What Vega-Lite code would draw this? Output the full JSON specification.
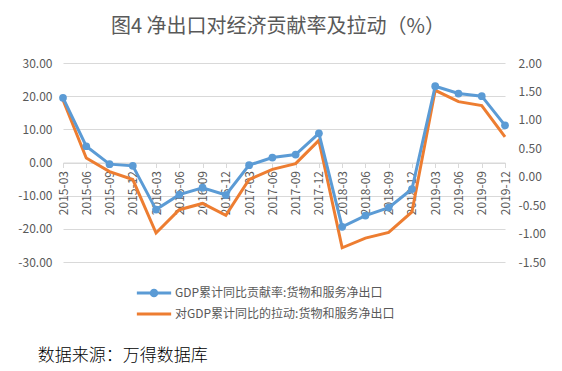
{
  "$schema": "https://vega.github.io/schema/vega-lite/v6.json",
  "padding": {"left": 17, "top": 17, "right": 10, "bottom": 5},
  "background": "white",
  "config": {"font": "Noto Sans CJK SC", "view": {"stroke": null}},
  "title": {"text": "数据来源：万得数据库", "orient": "bottom", "anchor": "start", "fontSize": 17, "fontWeight": 300, "color": "#000000", "offset": 28, "dx": 20},
  "vconcat": [
    {
      "width": 442,
      "height": 199,
      "title": {"text": "图4 净出口对经济贡献率及拉动（%）", "fontSize": 20, "fontWeight": "normal", "color": "#595959", "offset": 20, "anchor": "middle", "dx": -6},
      "data": {"values": [
        {"q": "2015-03", "contrib": 19.5, "pull": 1.35},
        {"q": "2015-06", "contrib": 4.9, "pull": 0.33},
        {"q": "2015-09", "contrib": -0.5, "pull": 0.09},
        {"q": "2015-12", "contrib": -1.0, "pull": -0.05},
        {"q": "2016-03", "contrib": -14.2, "pull": -0.99},
        {"q": "2016-06", "contrib": -9.7, "pull": -0.58},
        {"q": "2016-09", "contrib": -7.6, "pull": -0.47},
        {"q": "2016-12", "contrib": -9.8, "pull": -0.68},
        {"q": "2017-03", "contrib": -0.8, "pull": -0.05},
        {"q": "2017-06", "contrib": 1.5, "pull": 0.13},
        {"q": "2017-09", "contrib": 2.4, "pull": 0.23},
        {"q": "2017-12", "contrib": 8.8, "pull": 0.64},
        {"q": "2018-03", "contrib": -19.4, "pull": -1.25},
        {"q": "2018-06", "contrib": -16.0, "pull": -1.08},
        {"q": "2018-09", "contrib": -13.6, "pull": -0.98},
        {"q": "2018-12", "contrib": -8.0, "pull": -0.62},
        {"q": "2019-03", "contrib": 23.0, "pull": 1.52},
        {"q": "2019-06", "contrib": 20.8, "pull": 1.32},
        {"q": "2019-09", "contrib": 20.0, "pull": 1.25},
        {"q": "2019-12", "contrib": 11.2, "pull": 0.70}
      ]},
      "encoding": {
        "x": {
          "field": "q", "type": "ordinal", "sort": null,
          "scale": {"type": "point", "padding": 0},
          "axis": {"title": null, "orient": "bottom", "offset": -99.5, "labelAngle": 270, "labelFontSize": 12, "labelColor": "#595959", "domainColor": "#d9d9d9", "tickColor": "#d9d9d9", "tickSize": 5, "grid": false, "labelPadding": 3}
        }
      },
      "layer": [
        {
          "mark": {"type": "line", "strokeWidth": 3},
          "encoding": {
            "y": {"field": "pull", "type": "quantitative",
              "scale": {"domain": [-1.5, 2], "nice": false, "zero": false},
              "axis": {"orient": "right", "title": null, "values": [-1.5, -1, -0.5, 0, 0.5, 1, 1.5, 2], "labelExpr": "(datum.value < 0 ? '-' : '') + format(abs(datum.value), '.2f')", "grid": false, "domain": false, "ticks": false, "tickSize": 0, "labelPadding": 13, "labelFontSize": 12, "labelColor": "#595959"}},
            "color": {"datum": "对GDP累计同比的拉动:货物和服务净出口"}
          }
        },
        {
          "mark": {"type": "line", "strokeWidth": 3, "point": {"filled": true, "size": 60}},
          "encoding": {
            "y": {"field": "contrib", "type": "quantitative",
              "scale": {"domain": [-30, 30], "nice": false},
              "axis": {"orient": "left", "title": null, "values": [-30, -20, -10, 0, 10, 20, 30], "labelExpr": "(datum.value < 0 ? '-' : '') + format(abs(datum.value), '.2f')", "grid": true, "gridColor": "#d9d9d9", "domain": false, "ticks": false, "tickSize": 0, "labelPadding": 11, "labelFontSize": 12, "labelColor": "#595959"}},
            "color": {
              "datum": "GDP累计同比贡献率:货物和服务净出口",
              "scale": {"domain": ["GDP累计同比贡献率:货物和服务净出口", "对GDP累计同比的拉动:货物和服务净出口"], "range": ["#5B9BD5", "#ED7D31"]},
              "legend": {
                "orient": "none", "legendX": 83, "legendY": 222, "title": null, "direction": "vertical",
                "symbolType": "M-2.8,0H2.8", "symbolSize": 150, "symbolStrokeWidth": 3,
                "labelFontSize": 12, "labelColor": "#595959", "labelLimit": 0, "rowPadding": 4, "labelOffset": 13,
                "encode": {"symbols": {"update": {
                  "shape": {"signal": "datum.index === 0 ? 'M-2.8,0H2.8M0.45,0A0.45,0.45 0 1,1 -0.45,0A0.45,0.45 0 1,1 0.45,0' : 'M-2.8,0H2.8'"},
                  "fill": {"signal": "datum.index === 0 ? '#5B9BD5' : 'transparent'"}
                }}}
              }
            }
          }
        }
      ],
      "resolve": {"scale": {"y": "independent"}}
    }
  ]
}
